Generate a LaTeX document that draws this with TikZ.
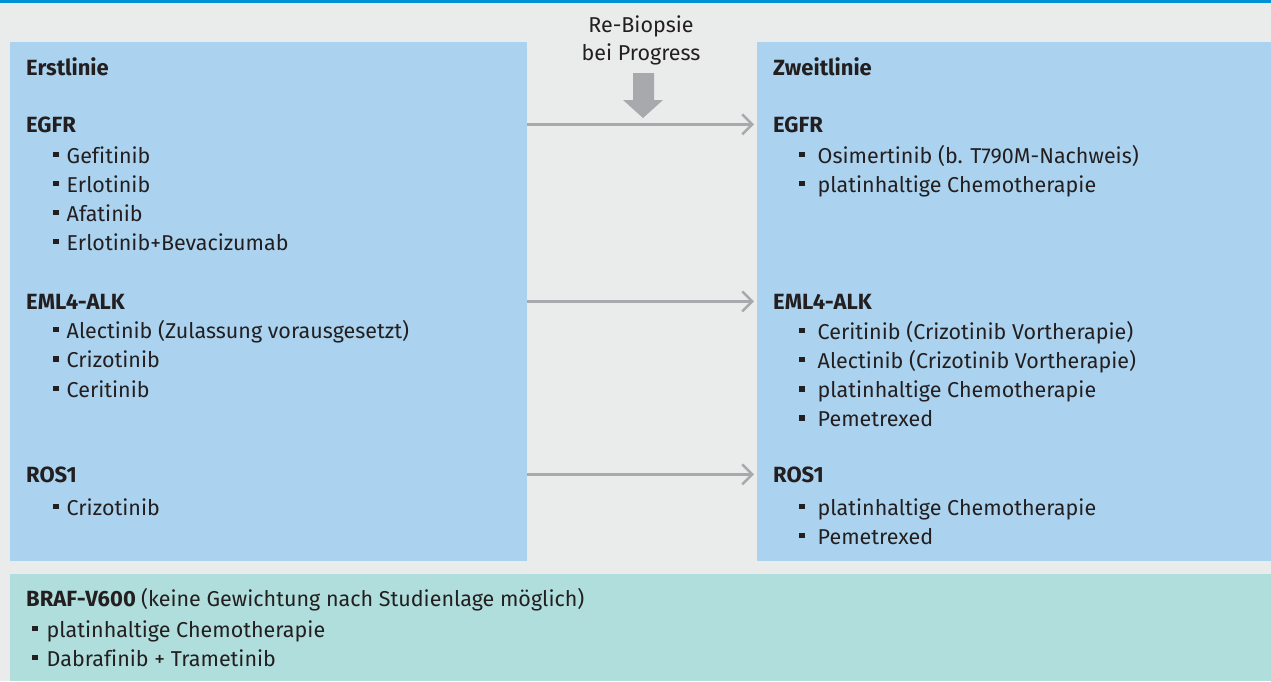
\documentclass[tikz,border=0pt]{standalone}
\usepackage{fontspec}
\setmainfont{Fira Sans}[Ligatures={NoCommon}]
\usetikzlibrary{arrows.meta}
\definecolor{bg}{RGB}{234,236,235}
\definecolor{topline}{RGB}{0,146,213}
\definecolor{boxblue}{RGB}{171,211,239}
\definecolor{boxteal}{RGB}{176,222,220}
\definecolor{arrgray}{RGB}{167,169,172}
\definecolor{txt}{RGB}{35,31,32}
\newcommand{\bul}[1]{\rule[6pt]{5.5pt}{5.5pt}\hspace{#1}}
\tikzset{
  box/.style={fill=#1, inner sep=0, anchor=north west},
  head/.style={font=\fontsize{22}{26}\selectfont\bfseries, text=txt, inner sep=0, anchor=base west},
  item/.style={font=\fontsize{21.5}{26}\selectfont, text=txt, inner sep=0, anchor=base west},
  link/.style={draw=arrgray, line width=2.5pt, shorten >=3pt, -{Straight Barb[length=10pt,width=20pt]}}
}
\begin{document}
\begin{tikzpicture}[x=1pt, y=-1pt]
            \useasboundingbox (0,0) rectangle (1271,681);
            \fill[bg] (0,0) rectangle (1271,681);
            \fill[topline] (0,0) rectangle (1271,2.5);

            % Boxes
            \node[box=boxblue, minimum width=517pt, minimum height=519pt] (boxL) at (10,42) {};
            \node[box=boxblue, minimum width=514pt, minimum height=519pt] (boxR) at (757,42) {};
            \node[box=boxteal, minimum width=1261pt, minimum height=107pt] (boxB) at (10,574) {};

            % Nodes with manual coordinates
            \node[head] (erst) at (26,75) {Erstlinie};
            \node[head] (zweit) at (773,75) {Zweitlinie};
            \node[item, anchor=base] (rebio1) at (641,32) {Re-Biopsie};
            \node[item, anchor=base] (rebio2) at (641,60) {bei Progress};

            \node[head] (egfrL) at (26,132) {EGFR};
            \foreach \t [count=\i from 0] in {Gefitinib, Erlotinib, Afatinib, Erlotinib+Bevacizumab}
              \node[item] (egfrL\i) at (53,163+29*\i) {\bul{8pt}\t};
            \node[head] (almL) at (26,309) {EML4-ALK};
            \foreach \t [count=\i from 0] in {Alectinib (Zulassung vorausgesetzt), Crizotinib, Ceritinib}
              \node[item] (almL\i) at (53,338+29.5*\i) {\bul{8pt}\t};
            \node[head] (rosL) at (26,482) {ROS1};
            \node[item] (rosL0) at (53,515) {\bul{8pt}Crizotinib};

            \node[head] (egfrR) at (773,132) {EGFR};
            \foreach \t [count=\i from 0] in {Osimertinib (b. T790M-Nachweis), platinhaltige Chemotherapie}
              \node[item] (egfrR\i) at (799,163+29*\i) {\bul{13pt}\t};
            \node[head] (almR) at (773,309) {EML4-ALK};
            \foreach \t [count=\i from 0] in {Ceritinib (Crizotinib Vortherapie), Alectinib (Crizotinib Vortherapie), platinhaltige Chemotherapie, Pemetrexed}
              \node[item] (almR\i) at (799,339+29.3*\i) {\bul{13pt}\t};
            \node[head] (rosR) at (773,482) {ROS1};
            \foreach \t [count=\i from 0] in {platinhaltige Chemotherapie, Pemetrexed}
              \node[item] (rosR\i) at (799,515+29*\i) {\bul{13pt}\t};

            \node[head] (braf) at (26,606) {BRAF-V600 \mdseries\fontsize{21.5}{26}\selectfont(keine Gewichtung nach Studienlage möglich)};
            \foreach \t [count=\i from 0] in {platinhaltige Chemotherapie, Dabrafinib + Trametinib}
              \node[item] (braf\i) at (32,637+29*\i) {\bul{9pt}\t};

            % Block arrow
            \fill[arrgray] (633,73) -- (654,73) -- (654,100) -- (663,100) -- (643,118)
              -- (623,100) -- (633,100) -- cycle;

            % Edges
            \draw[link] (boxL.east |- egfrL) -- (boxR.west |- egfrR);
            \draw[link] (boxL.east |- almL) -- (boxR.west |- almR);
            \draw[link] (boxL.east |- rosL) -- (boxR.west |- rosR);
\end{tikzpicture}
\end{document}
